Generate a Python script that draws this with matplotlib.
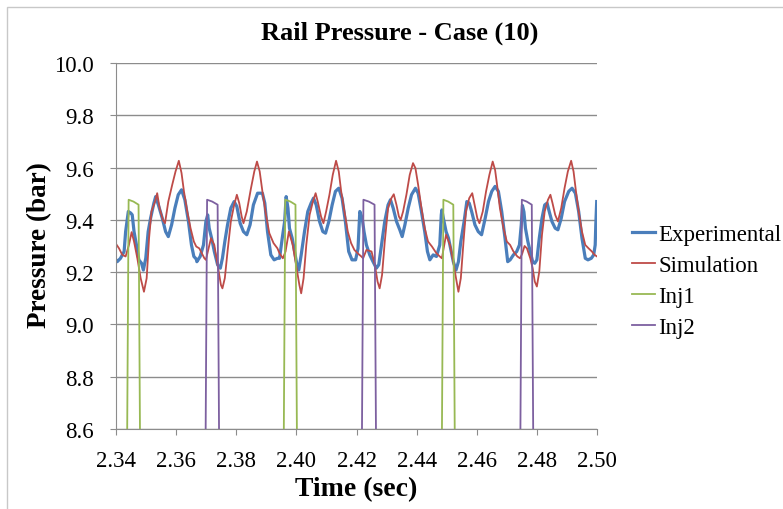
import numpy as np
import matplotlib.pyplot as plt
from matplotlib.patches import Rectangle

# measured rail pressure
exp_t = [2.3400, 2.3404, 2.3415, 2.3427, 2.3432, 2.3441, 2.3449, 2.3454, 2.3460, 2.3468,
         2.3476, 2.3485, 2.3491, 2.3499, 2.3507, 2.3515, 2.3526, 2.3532, 2.3541, 2.3554,
         2.3565, 2.3574, 2.3585, 2.3596, 2.3607, 2.3618, 2.3629, 2.3641, 2.3651, 2.3659,
         2.3667, 2.3669, 2.3680, 2.3691, 2.3699, 2.3705, 2.3710, 2.3718, 2.3727, 2.3738,
         2.3747, 2.3754, 2.3762, 2.3771, 2.3782, 2.3793, 2.3802, 2.3813, 2.3824, 2.3835,
         2.3846, 2.3857, 2.3871, 2.3887, 2.3895, 2.3904, 2.3915, 2.3926, 2.3937, 2.3944,
         2.3953, 2.3961, 2.3966, 2.3972, 2.3977, 2.3986, 2.3994, 2.4001, 2.4008, 2.4016,
         2.4027, 2.4038, 2.4049, 2.4057, 2.4066, 2.4077, 2.4088, 2.4097, 2.4108, 2.4119,
         2.4130, 2.4141, 2.4152, 2.4163, 2.4174, 2.4185, 2.4197, 2.4205, 2.4211, 2.4219,
         2.4225, 2.4233, 2.4244, 2.4255, 2.4266, 2.4274, 2.4283, 2.4294, 2.4305, 2.4313,
         2.4322, 2.4333, 2.4344, 2.4352, 2.4361, 2.4372, 2.4383, 2.4396, 2.4405, 2.4416,
         2.4427, 2.4436, 2.4444, 2.4455, 2.4466, 2.4477, 2.4482, 2.4484, 2.4489, 2.4498,
         2.4506, 2.4513, 2.4522, 2.4531, 2.4539, 2.4547, 2.4558, 2.4567, 2.4575, 2.4583,
         2.4594, 2.4605, 2.4616, 2.4628, 2.4639, 2.4650, 2.4661, 2.4672, 2.4683, 2.4694,
         2.4703, 2.4711, 2.4722, 2.4733, 2.4742, 2.4748, 2.4752, 2.4757, 2.4762, 2.4770,
         2.4778, 2.4786, 2.4793, 2.4800, 2.4808, 2.4817, 2.4826, 2.4834, 2.4841, 2.4850,
         2.4861, 2.4870, 2.4881, 2.4892, 2.4906, 2.4917, 2.4928, 2.4939, 2.4950, 2.4961,
         2.4970, 2.4981, 2.4989, 2.4994, 2.4996, 2.4999]
exp_p = [9.247, 9.240, 9.253, 9.279, 9.355, 9.432, 9.426, 9.419, 9.355, 9.304,
         9.247, 9.234, 9.208, 9.253, 9.355, 9.406, 9.464, 9.489, 9.457, 9.406,
         9.355, 9.336, 9.381, 9.445, 9.496, 9.515, 9.477, 9.394, 9.304, 9.260,
         9.250, 9.240, 9.260, 9.304, 9.394, 9.419, 9.368, 9.330, 9.279, 9.228,
         9.215, 9.253, 9.317, 9.381, 9.445, 9.470, 9.451, 9.387, 9.355, 9.343,
         9.381, 9.457, 9.502, 9.502, 9.464, 9.355, 9.266, 9.247, 9.253, 9.253,
         9.330, 9.394, 9.489, 9.445, 9.368, 9.330, 9.279, 9.234, 9.208, 9.266,
         9.355, 9.432, 9.464, 9.483, 9.457, 9.394, 9.355, 9.349, 9.394, 9.457,
         9.509, 9.521, 9.483, 9.394, 9.279, 9.247, 9.247, 9.290, 9.432, 9.406,
         9.355, 9.304, 9.266, 9.240, 9.215, 9.228, 9.304, 9.394, 9.457, 9.477,
         9.445, 9.394, 9.362, 9.336, 9.381, 9.445, 9.496, 9.521, 9.502, 9.432,
         9.355, 9.279, 9.247, 9.266, 9.260, 9.304, 9.419, 9.438, 9.406, 9.355,
         9.330, 9.291, 9.240, 9.208, 9.240, 9.317, 9.394, 9.470, 9.464, 9.432,
         9.381, 9.355, 9.343, 9.406, 9.470, 9.509, 9.528, 9.509, 9.432, 9.330,
         9.240, 9.247, 9.266, 9.279, 9.304, 9.380, 9.455, 9.430, 9.368, 9.317,
         9.279, 9.240, 9.234, 9.247, 9.330, 9.406, 9.457, 9.464, 9.432, 9.394,
         9.368, 9.362, 9.406, 9.470, 9.509, 9.521, 9.502, 9.432, 9.330, 9.253,
         9.247, 9.253, 9.266, 9.304, 9.381, 9.470]

# simulated rail pressure
sim_t = [2.3400, 2.3410, 2.3421, 2.3432, 2.3443, 2.3452, 2.3460, 2.3471, 2.3482, 2.3493,
         2.3502, 2.3510, 2.3518, 2.3530, 2.3537, 2.3545, 2.3556, 2.3563, 2.3574, 2.3587,
         2.3598, 2.3609, 2.3618, 2.3626, 2.3637, 2.3648, 2.3659, 2.3667, 2.3677, 2.3694,
         2.3699, 2.3716, 2.3727, 2.3738, 2.3749, 2.3754, 2.3762, 2.3771, 2.3782, 2.3793,
         2.3802, 2.3810, 2.3818, 2.3824, 2.3835, 2.3849, 2.3860, 2.3869, 2.3878, 2.3887,
         2.3899, 2.3910, 2.3924, 2.3937, 2.3944, 2.3955, 2.3964, 2.3975, 2.3988, 2.3999,
         2.4010, 2.4016, 2.4024, 2.4033, 2.4044, 2.4055, 2.4064, 2.4071, 2.4082, 2.4090,
         2.4099, 2.4110, 2.4121, 2.4132, 2.4141, 2.4149, 2.4160, 2.4171, 2.4182, 2.4193,
         2.4204, 2.4216, 2.4222, 2.4233, 2.4250, 2.4261, 2.4270, 2.4277, 2.4285, 2.4294,
         2.4305, 2.4316, 2.4324, 2.4333, 2.4341, 2.4347, 2.4355, 2.4366, 2.4377, 2.4388,
         2.4396, 2.4405, 2.4416, 2.4427, 2.4438, 2.4451, 2.4466, 2.4477, 2.4484, 2.4498,
         2.4511, 2.4522, 2.4531, 2.4539, 2.4547, 2.4556, 2.4564, 2.4575, 2.4585, 2.4594,
         2.4602, 2.4609, 2.4620, 2.4631, 2.4642, 2.4653, 2.4661, 2.4669, 2.4677, 2.4689,
         2.4700, 2.4711, 2.4722, 2.4735, 2.4744, 2.4751, 2.4759, 2.4767, 2.4778, 2.4786,
         2.4793, 2.4800, 2.4808, 2.4817, 2.4826, 2.4837, 2.4845, 2.4852, 2.4861, 2.4870,
         2.4881, 2.4892, 2.4903, 2.4914, 2.4922, 2.4930, 2.4939, 2.4950, 2.4961, 2.4972,
         2.4983, 2.4992, 2.5000]
sim_p = [9.308, 9.291, 9.266, 9.260, 9.304, 9.353, 9.317, 9.253, 9.177, 9.125,
         9.177, 9.330, 9.432, 9.470, 9.502, 9.445, 9.400, 9.387, 9.470, 9.534,
         9.585, 9.626, 9.579, 9.509, 9.432, 9.368, 9.317, 9.298, 9.291, 9.253,
         9.247, 9.330, 9.304, 9.228, 9.151, 9.138, 9.177, 9.279, 9.394, 9.457,
         9.496, 9.464, 9.413, 9.387, 9.432, 9.521, 9.585, 9.623, 9.585, 9.509,
         9.419, 9.349, 9.311, 9.291, 9.272, 9.253, 9.279, 9.355, 9.304, 9.228,
         9.151, 9.119, 9.177, 9.304, 9.419, 9.470, 9.502, 9.470, 9.413, 9.387,
         9.432, 9.496, 9.572, 9.626, 9.585, 9.509, 9.432, 9.355, 9.311, 9.285,
         9.272, 9.260, 9.253, 9.285, 9.279, 9.228, 9.164, 9.138, 9.189, 9.317,
         9.445, 9.483, 9.498, 9.457, 9.413, 9.400, 9.432, 9.496, 9.572, 9.617,
         9.598, 9.534, 9.445, 9.368, 9.317, 9.298, 9.272, 9.260, 9.253, 9.343,
         9.304, 9.240, 9.177, 9.125, 9.177, 9.317, 9.432, 9.483, 9.502, 9.451,
         9.406, 9.387, 9.432, 9.509, 9.572, 9.623, 9.591, 9.521, 9.445, 9.368,
         9.317, 9.304, 9.279, 9.260, 9.253, 9.270, 9.300, 9.291, 9.253, 9.215,
         9.164, 9.145, 9.202, 9.343, 9.432, 9.477, 9.496, 9.464, 9.419, 9.394,
         9.445, 9.521, 9.585, 9.626, 9.585, 9.509, 9.432, 9.355, 9.304, 9.291,
         9.279, 9.266, 9.260]

# injector signals (off level sits below the plotted range)
inj1_t = [2.3400, 2.3434, 2.3442, 2.3458, 2.3475, 2.3483,
          2.3955, 2.3963, 2.3980, 2.3997, 2.4005,
          2.4481, 2.4489, 2.4505, 2.4522, 2.4530, 2.5000]
inj1_p = [8.0, 8.0, 9.477, 9.470, 9.458, 8.0,
          8.0, 9.477, 9.470, 9.458, 8.0,
          8.0, 9.477, 9.470, 9.458, 8.0, 8.0]
inj2_t = [2.3400, 2.3695, 2.3703, 2.3720, 2.3738, 2.3746,
          2.4215, 2.4223, 2.4241, 2.4260, 2.4268,
          2.4742, 2.4750, 2.4766, 2.4783, 2.4791, 2.5000]
inj2_p = [8.0, 8.0, 9.477, 9.470, 9.458, 8.0,
          8.0, 9.477, 9.470, 9.458, 8.0,
          8.0, 9.477, 9.470, 9.458, 8.0, 8.0]

xticks = np.arange(2.34, 2.5001, 0.02)
yticks = np.arange(8.6, 10.0001, 0.2)

plt.rcParams['font.family'] = ['Liberation Serif', 'DejaVu Serif']

fig = plt.figure(figsize=(7.83, 5.10), dpi=100)
fig.patches.append(Rectangle((7 / 783, -0.05), 1.1, 1 - 8 / 510 + 0.05,
                             transform=fig.transFigure, fill=False,
                             edgecolor='#c8c8c8', linewidth=1))
ax = fig.add_axes([116 / 783, 80 / 510, 481 / 783, 366 / 510])

ax.plot(exp_t, exp_p, color='#4a7ebb', lw=2.3, label='Experimental')
ax.plot(sim_t, sim_p, color='#be4b48', lw=1.3, label='Simulation')
ax.plot(inj1_t, inj1_p, color='#98b954', lw=1.3, label='Inj1')
ax.plot(inj2_t, inj2_p, color='#7d60a0', lw=1.3, label='Inj2')

ax.set_xlim(2.34, 2.50)
ax.set_ylim(8.6, 10.0)
ax.set_xticks(xticks)
ax.set_yticks(yticks)
ax.set_xticklabels(['%.2f' % v for v in xticks])
ax.set_yticklabels(['%.1f' % v for v in yticks])
ax.grid(axis='y', color='#8c8c8c', lw=1)
ax.set_axisbelow(True)
for s in ['top', 'right']:
    ax.spines[s].set_visible(False)
for s in ['left', 'bottom']:
    ax.spines[s].set_color('#8c8c8c')
ax.tick_params(axis='both', colors='#8c8c8c', labelcolor='black',
               labelsize=16.5, length=4, direction='out')
ax.tick_params(axis='x', pad=11)
ax.tick_params(axis='y', pad=12)

fig.text(400 / 783, 1 - 33 / 510, 'Rail Pressure - Case (10)', ha='center',
         va='center', fontsize=19, fontweight='bold')
fig.text(40 / 783, 1 - 245 / 510, 'Pressure (bar)', ha='center', va='center',
         rotation=90, fontsize=19.5, fontweight='bold')
fig.text(356 / 783, 1 - 490 / 510, 'Time (sec)', ha='center', va='center',
         fontsize=20, fontweight='bold')

fig.legend(loc='upper left', bbox_to_anchor=(632 / 783, 1 - 225 / 510),
           frameon=False, fontsize=16.5, handlelength=1.0, handletextpad=0.15,
           labelspacing=0.44, borderpad=0, borderaxespad=0)

fig.savefig('out.png', dpi=100)
